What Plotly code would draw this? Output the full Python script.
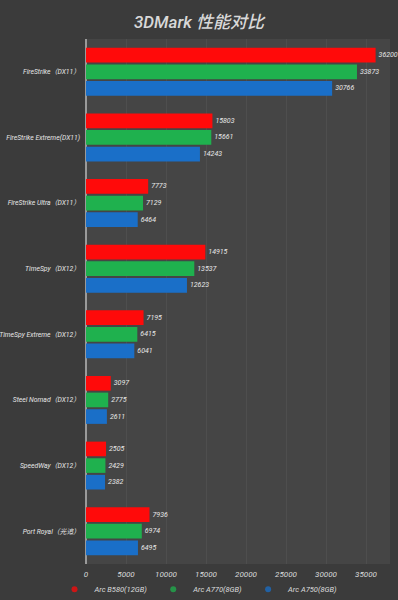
import plotly.graph_objects as go

categories = ["FireStrike（DX11）", "FireStrike Extreme(DX11)", "FireStrike Ultra（DX11）",
              "TimeSpy（DX12）", "TimeSpy Extreme（DX12）", "Steel Nomad（DX12）",
              "SpeedWay（DX12）", "Port Royal（光追）"]
b580 = [36200, 15803, 7773, 14915, 7195, 3097, 2505, 7936]
a770 = [33873, 15661, 7129, 13537, 6415, 2775, 2429, 6974]
a750 = [30766, 14243, 6464, 12623, 6041, 2611, 2382, 6495]
series_names = ["Arc B580(12GB)", "Arc A770(8GB)", "Arc A750(8GB)"]
colors = ["#ff0a0a", "#1fb14e", "#1a6fc8"]
tick_vals = [0, 5000, 10000, 15000, 20000, 25000, 30000, 35000]

font_family = "Roboto, 'Noto Sans CJK SC', sans-serif"

fig = go.Figure()
for name, vals, col in zip(series_names, [b580, a770, a750], colors):
    fig.add_trace(go.Bar(
        y=categories, x=vals, name=name, orientation="h",
        marker=dict(color=col, line=dict(width=0)),
        text=[str(v) for v in vals], textposition="outside",
        textfont=dict(color="#e8e8e8", size=7, family=font_family, style="italic"),
        cliponaxis=False, showlegend=False,
    ))
# legend entries with round markers
for name, col in zip(series_names, colors):
    fig.add_trace(go.Scatter(
        x=[None], y=[None], mode="markers", name=name,
        marker=dict(color=col, size=6, symbol="circle", opacity=0.75),
    ))

fig.update_layout(
    width=398, height=600,
    paper_bgcolor="#3b3b3b", plot_bgcolor="#454545",
    barmode="group", bargap=0.24, bargroupgap=0.12,
    margin=dict(l=86, r=8, t=39, b=36),
    title=dict(text="3DMark 性能对比", x=0.5, xanchor="center", y=0.963, yanchor="middle",
               font=dict(size=17, color="#d8d8d8", family=font_family, style="italic", weight=500)),
    xaxis=dict(range=[0, 38000], tickvals=tick_vals, tickformat="d", showgrid=True,
               gridcolor="rgba(255,255,255,0.05)", zeroline=True, zerolinecolor="#9a9a9a",
               zerolinewidth=1.5, ticklabelstandoff=4,
               tickfont=dict(size=8, color="#dddddd", family=font_family, style="italic"),
               showline=False, automargin=False),
    yaxis=dict(autorange="reversed", showgrid=False, ticks="", ticklabelstandoff=5,
               automargin=False,
               tickfont=dict(size=6.8, color="#e6e6e6", family=font_family, style="italic")),
    legend=dict(orientation="h", xref="container", x=0.5, xanchor="center",
                yref="container", y=0.018, yanchor="middle",
                font=dict(size=7.5, color="#dddddd", family=font_family, style="italic"),
                itemwidth=30, bgcolor="rgba(0,0,0,0)"),
    showlegend=True,
)

fig.write_html("out.html", config={"displayModeBar": False},
               post_script="document.body.style.margin='0';")
